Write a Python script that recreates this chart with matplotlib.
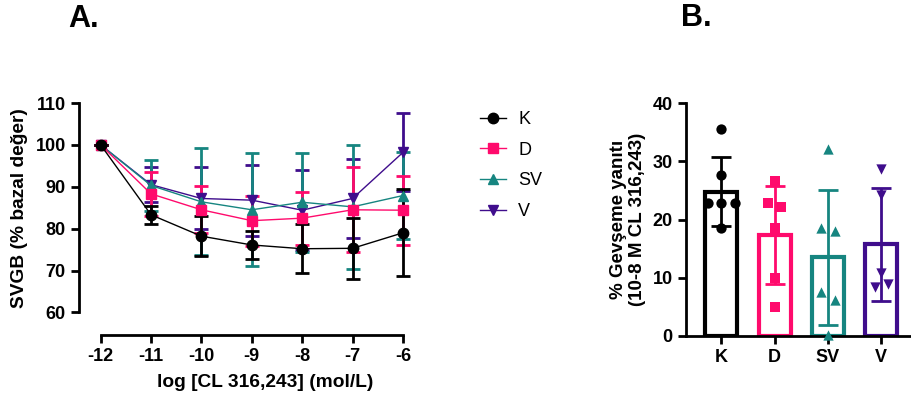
import numpy as np
from matplotlib import pyplot as plt

plt.rc('font', family='Liberation Sans', weight='bold')
plt.rc('axes', unicode_minus=False, labelweight='bold')

# Veri: sol panel (konsantrasyon-yanit egrisi)
log_conc = [-12, -11, -10, -9, -8, -7, -6]
groups = ['K', 'D', 'SV', 'V']
mean_K = [100, 83.3, 78.2, 76.1, 75.2, 75.3, 79.0]
err_K = [0, 2.1, 4.8, 3.4, 5.8, 7.3, 10.4]
mean_D = [100, 88.3, 84.5, 81.9, 82.5, 84.5, 84.4]
err_D = [0, 5.3, 5.6, 6.0, 6.3, 10.1, 8.2]
mean_SV = [100, 90.3, 86.4, 84.5, 86.3, 85.2, 87.9]
err_SV = [0, 6.0, 12.8, 13.5, 11.8, 14.8, 10.3]
mean_V = [100, 90.5, 87.2, 86.8, 84.4, 87.2, 98.2]
err_V = [0, 4.1, 7.4, 8.5, 9.5, 9.5, 9.3]

# Veri: sag panel (10-8 M gevseme yaniti)
bar_mean = [24.8, 17.3, 13.5, 15.7]
bar_sd = [6.0, 8.4, 11.6, 9.8]
pts_K = [35.5, 27.7, 22.8, 22.8, 22.8, 18.6]
pts_D = [26.7, 22.9, 22.1, 18.5, 10.0, 5.0]
pts_SV = [32.2, 18.5, 18.0, 7.6, 6.1, 0.1]
pts_V = [28.7, 24.2, 10.8, 8.4, 8.9]

colors = {'K': '#000000', 'D': '#FF0A6C', 'SV': '#168580', 'V': '#3F0D8C'}
markers = {'K': 'o', 'D': 's', 'SV': '^', 'V': 'v'}


def spread(vals, binw=3.0, step=0.25):
    " yatay dagitim: ayni araliga dusen noktalar yana acilir "
    vals = np.asarray(vals)
    bins = np.floor(vals / binw)
    off = np.zeros(len(vals))
    for b in np.unique(bins):
        idx = np.where(bins == b)[0]
        n = len(idx)
        off[idx] = (np.arange(n) - (n - 1) / 2.) * step
    return off


fig = plt.figure(figsize=(9.12, 4.05), dpi=100)

# Panel A
ax1 = fig.add_axes([79/912, 1-335/405, 331/912, 232/405])
series = [('V', mean_V, err_V), ('SV', mean_SV, err_SV),
          ('D', mean_D, err_D), ('K', mean_K, err_K)]
handles = {}
for z, (name, m, e) in enumerate(series):
    c = colors[name]
    ax1.errorbar(log_conc, m, yerr=e, fmt='none', ecolor=c, elinewidth=2.,
                 capsize=5, capthick=2., zorder=2+z, clip_on=False)
    h, = ax1.plot(log_conc, m, '-', color=c, lw=1., marker=markers[name],
                  ms=7.5, mec=c, mfc=c, zorder=6+z, clip_on=False)
    handles[name] = h
ax1.set_xlim(-12.43, -5.86)
ax1.set_ylim(54.6, 110)
ax1.set_xticks(log_conc)
ax1.set_yticks(np.arange(60, 111, 10))
ax1.spines['left'].set_bounds(60, 110)
ax1.spines['bottom'].set_bounds(-12, -6)
for s in ['top', 'right']:
    ax1.spines[s].set_visible(False)
for s in ['left', 'bottom']:
    ax1.spines[s].set_linewidth(2)
ax1.tick_params(width=2, length=6, labelsize=13)
ax1.set_xlabel('log [CL 316,243] (mol/L)', fontsize=13.8)
ax1.set_ylabel('SVGB (% bazal değer)', fontsize=13.8)
ax1.xaxis.set_label_coords(0.562, -0.17)
ax1.yaxis.set_label_coords(-0.155, 0.547)

fig.legend([handles[g] for g in groups], groups, loc='upper left',
           bbox_to_anchor=(464/912, 1-95/405), frameon=False,
           handlelength=1.4, handletextpad=0.7, labelspacing=0.75,
           prop={'weight': 'normal', 'size': 13})

# Panel B
ax2 = fig.add_axes([686/912, 1-335.7/405, 224/912, 232.4/405])
xpos = np.arange(len(groups))
points = [pts_K, pts_D, pts_SV, pts_V]
for i, g in enumerate(groups):
    c = colors[g]
    ax2.bar(xpos[i], bar_mean[i], width=0.6, color='white', edgecolor=c,
            linewidth=3, zorder=2)
    ax2.scatter(xpos[i] + spread(points[i]), points[i], s=55, color=c,
                marker=markers[g], zorder=3, clip_on=False, linewidths=0)
    ax2.errorbar(xpos[i], bar_mean[i], yerr=bar_sd[i], fmt='none', ecolor=c,
                 elinewidth=2, capsize=7, capthick=2, zorder=4)
ax2.set_xlim(-0.665, 3.54)
ax2.set_ylim(0, 40)
ax2.set_xticks(xpos)
ax2.set_xticklabels(groups)
ax2.set_yticks(np.arange(0, 41, 10))
for s in ['top', 'right']:
    ax2.spines[s].set_visible(False)
for s in ['left', 'bottom']:
    ax2.spines[s].set_linewidth(2)
ax2.tick_params(width=2, length=6, labelsize=13)
ax2.set_ylabel('% Gevşeme yanıtı\n(10-8 M CL 316,243)', fontsize=13.5,
               labelpad=5, linespacing=1.1)

fig.text(68/912, 1-27/405, 'A.', fontsize=22, fontweight='bold')
fig.text(681/912, 1-26/405, 'B.', fontsize=22, fontweight='bold')

fig.savefig('out.png', dpi=100)
